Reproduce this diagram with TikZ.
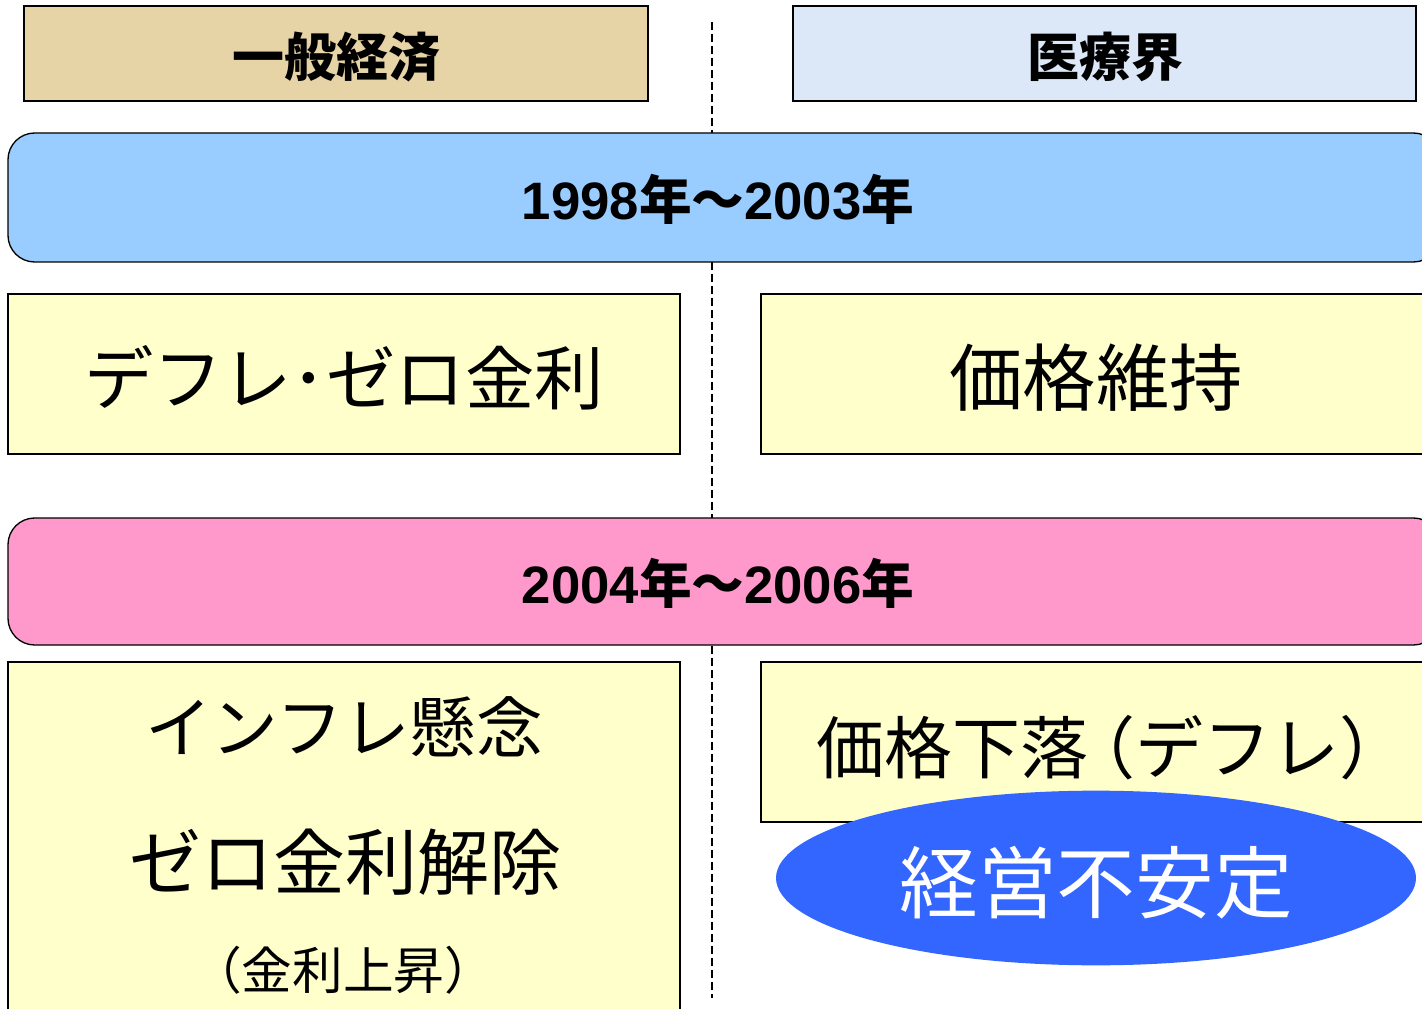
\documentclass[tikz,border=0pt]{standalone}
\usepackage{fontspec}
\usepackage[rgb]{xcolor}
\usetikzlibrary{shapes.geometric}
\newfontfamily\jpfont{Noto Sans CJK JP}
\newfontfamily\numfont{Liberation Sans}

\definecolor{paper}{HTML}{E6D3A6}
\definecolor{ice}{HTML}{DCE8F8}
\definecolor{skyblue}{HTML}{99CCFF}
\definecolor{rose}{HTML}{FF99CC}
\definecolor{cream}{HTML}{FFFFCC}
\definecolor{royal}{HTML}{3366FF}

\newcommand\yr[1]{{\numfont\bfseries #1}}

\begin{document}
\begin{tikzpicture}[x=0.75pt, y=-0.75pt, line width=1pt,
  head/.style={font=\jpfont\bfseries\fontsize{39}{41}\selectfont},
  period/.style={font=\jpfont\bfseries\fontsize{39.5}{42}\selectfont},
  big/.style={font=\jpfont\fontsize{#1}{56}\selectfont},
  big/.default=50,
  small/.style={font=\jpfont\fontsize{38}{42}\selectfont}]

\clip (0,0) rectangle (1422,1009);
\useasboundingbox (0,0) rectangle (1422,1009);

% dashed separator between the two columns
\coordinate (sep top) at (712,22);
\coordinate (sep bot) at (712,998);
\draw[dash pattern=on 6pt off 3pt, line width=0.8pt] (sep top) -- (sep bot);

% column heads
\filldraw[fill=paper, draw=black] (24,6) rectangle (648,101);
\node[head] (econ) at (336,57) {一般経済};
\filldraw[fill=ice, draw=black] (793,6) rectangle (1416,101);
\node[head] (medical) at (1105,57) {医療界};

% first period
\filldraw[fill=skyblue, draw=black, rounded corners=20] (8,133) rectangle (1440,262);
\node[period] (first) at (718,199) {\yr{1998}年～\yr{2003}年};

\filldraw[fill=cream, draw=black] (8,294) rectangle (680,454);
\node[big=52] (deflation) at (344,378) {デフレ･ゼロ金利};
\filldraw[fill=cream, draw=black] (761,294) rectangle (1440,454);
\node[big=55] (keep) at (1096,378) {価格維持};

% second period
\filldraw[fill=rose, draw=black, rounded corners=20] (8,518) rectangle (1440,645);
\node[period] (second) at (718,583) {\yr{2004}年～\yr{2006}年};

\filldraw[fill=cream, draw=black] (8,662) rectangle (680,1030);
\node[big] (inflation) at (344,727) {インフレ懸念};
\node[big=54] (lift) at (345,862) {ゼロ金利解除};
\node[small] (rise) at (343,970) {（金利上昇）};

\filldraw[fill=cream, draw=black] (761,662) rectangle (1440,822);
\node[big=51] (fall) at (1112,748) {価格下落\kern-0.3em（デフレ）};

% the result
\node[ellipse, fill=royal, minimum width=480pt, minimum height=131pt] (unstable) at (1096,878) {};
\node[text=white, font=\jpfont\fontsize{59}{62}\selectfont] (unstable text) at (1096,883) {経営不安定};

\end{tikzpicture}
\end{document}
